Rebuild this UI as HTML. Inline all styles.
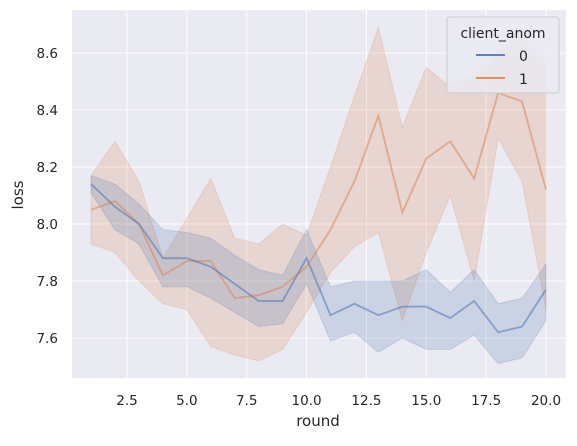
<!DOCTYPE html>
<html><head><meta charset="utf-8"><style>
body{margin:0;background:#fff;font-family:"Liberation Sans","DejaVu Sans",sans-serif;}
svg text{font-family:"DejaVu Sans","Liberation Sans",sans-serif;fill:#262626;}
</style></head><body>
<svg id="chart" width="577" height="441" xmlns="http://www.w3.org/2000/svg">
<rect x="72" y="10" width="494" height="368" fill="#eaeaf2"/>
<g id="grid"></g><g id="bands"></g><g id="lines"></g><g id="ticks"></g>
<text x="318" y="426" font-size="15" text-anchor="middle">round</text>
<text transform="translate(23,195) rotate(-90)" font-size="15" text-anchor="middle">loss</text>
<g>
<rect x="447" y="17" width="112" height="76" rx="3" fill="#eaeaf2" fill-opacity="0.8" stroke="#cccccc"/>
<text x="503" y="38" font-size="14" text-anchor="middle">client_anom</text>
<line x1="476" y1="55" x2="505" y2="55" stroke="#4c72b0" stroke-width="1.8"/>
<text x="519" y="61" font-size="14">0</text>
<line x1="476" y1="78" x2="505" y2="78" stroke="#dd8452" stroke-width="1.8"/>
<text x="519" y="84" font-size="14">1</text>
</g>
</svg>
<script>
const rounds=[1,2,3,4,5,6,7,8,9,10,11,12,13,14,15,16,17,18,19,20];
const blueMean=[8.14,8.06,8.00,7.88,7.88,7.85,7.79,7.73,7.73,7.88,7.68,7.72,7.68,7.71,7.71,7.67,7.73,7.62,7.64,7.77];
const blueLo=[8.11,7.98,7.93,7.78,7.78,7.74,7.69,7.64,7.65,7.79,7.59,7.62,7.55,7.60,7.56,7.56,7.61,7.51,7.53,7.66];
const blueHi=[8.17,8.14,8.07,7.98,7.97,7.95,7.89,7.84,7.82,7.98,7.78,7.80,7.80,7.80,7.84,7.76,7.84,7.72,7.74,7.86];
const orangeMean=[8.05,8.08,8.00,7.82,7.87,7.87,7.74,7.75,7.78,7.85,7.98,8.15,8.38,8.04,8.23,8.29,8.16,8.46,8.43,8.12];
const orangeLo=[7.93,7.90,7.80,7.72,7.70,7.57,7.54,7.52,7.56,7.69,7.83,7.92,7.97,7.66,7.90,8.10,7.80,8.30,8.15,7.70];
const orangeHi=[8.17,8.29,8.15,7.88,8.02,8.16,7.95,7.93,8.00,7.96,8.20,8.45,8.69,8.34,8.55,8.48,8.52,8.60,8.65,8.56];
const xTicks=[2.5,5.0,7.5,10.0,12.5,15.0,17.5,20.0];
const yTicks=[7.6,7.8,8.0,8.2,8.4,8.6];
const X=v=>127+(v-2.5)*(419/17.5);
const Y=v=>338-(v-7.6)*285;
const NS="http://www.w3.org/2000/svg";
function mk(t,p,a){const e=document.createElementNS(NS,t);for(const k in a)e.setAttribute(k,a[k]);p.appendChild(e);return e;}
const grid=document.getElementById('grid'),ticks=document.getElementById('ticks');
xTicks.forEach(t=>{
 const l=mk('line',grid,{x1:X(t),x2:X(t),y1:10,y2:378,stroke:'#fff','stroke-width':1});
 
 
 const tx=mk('text',ticks,{x:X(t),y:405,'font-size':13.5,'text-anchor':'middle'});tx.textContent=t.toFixed(1);
 
 
});
yTicks.forEach(t=>{
 const l=mk('line',grid,{x1:72,x2:566,y1:Y(t),y2:Y(t),stroke:'#fff','stroke-width':1});
 
 
 const tx=mk('text',ticks,{x:58,y:Y(t)+5,'font-size':13.5,'text-anchor':'end'});tx.textContent=t.toFixed(1);
 
 
});
function band(lo,hi,col,name){
 let pts=rounds.map((r,i)=>X(r)+','+Y(hi[i]));
 pts=pts.concat(rounds.map((r,i)=>X(r)+','+Y(lo[i])).reverse());
 const p=mk('polygon',document.getElementById('bands'),{points:pts.join(' '),fill:col,'fill-opacity':0.2,stroke:col,'stroke-opacity':0.2});
 
 
}
function line(m,col,name){
 const p=mk('polyline',document.getElementById('lines'),{points:rounds.map((r,i)=>X(r)+','+Y(m[i])).join(' '),fill:'none',stroke:col,'stroke-width':1.8,'stroke-opacity':0.55});
 
 
}
band(orangeLo,orangeHi,'#dd8452','ci-band-1');
band(blueLo,blueHi,'#4c72b0','ci-band-0');
line(orangeMean,'#dd8452','line-client-1');
line(blueMean,'#4c72b0','line-client-0');
</script>
</body></html>
